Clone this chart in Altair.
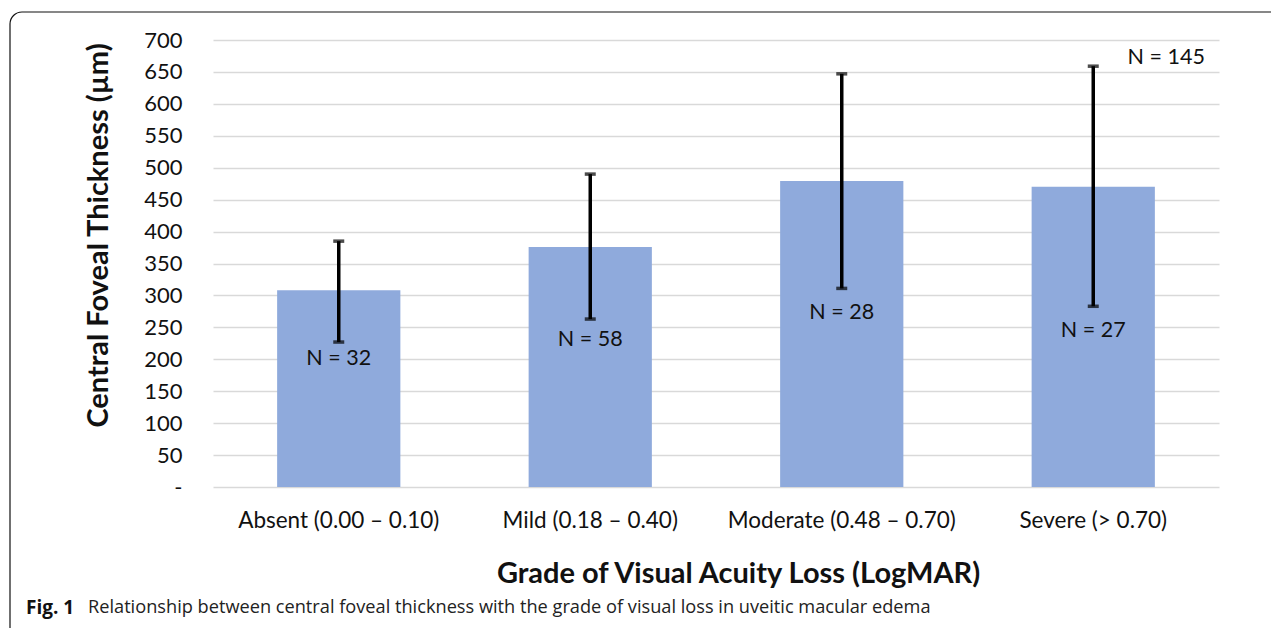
import altair as alt
import pandas as pd

categories = ["Absent (0.00 \u2013 0.10)", "Mild (0.18 \u2013 0.40)",
              "Moderate (0.48 \u2013 0.70)", "Severe (> 0.70)"]
means = [308, 376, 479, 470]
err_low = [227, 263, 311, 283]
err_high = [385, 490, 647, 659]
n_labels = ["N = 32", "N = 58", "N = 28", "N = 27"]
n_label_y = [200, 230, 272, 245]
total_label = "N = 145"
total_label_y = 672
y_ticks = [0, 50, 100, 150, 200, 250, 300, 350, 400, 450, 500, 550, 600, 650, 700]

df = pd.DataFrame({
    "cat": categories, "mean": means, "lo": err_low, "hi": err_high,
    "n": n_labels, "ny": n_label_y,
})
df_total = pd.DataFrame({"cat": [categories[-1]], "n": [total_label], "ny": [total_label_y]})

FONT = "Lato"
W, H = 1006, 447

yscale = alt.Scale(domain=[0, 700], nice=False)
xscale = alt.Scale(paddingInner=0.51, paddingOuter=0.255)

xaxis = alt.Axis(title="Grade of Visual Acuity Loss (LogMAR)", labelAngle=0,
                 labelFontSize=22.5, labelFont=FONT, labelColor="#111",
                 labelPadding=22, ticks=False, domain=False, labelLimit=400,
                 titleFont=FONT, titleFontSize=29, titleFontWeight="bold",
                 titleColor="#111", titleX=525, titleY=86, titleBaseline="middle")
yaxis = alt.Axis(title="Central Foveal Thickness (\u00b5m)", values=y_ticks,
                 labelExpr="datum.value == 0 ? '-' : datum.label",
                 labelFontSize=22, labelFont=FONT, labelColor="#111",
                 labelPadding=31, ticks=False, domain=False, labelOverlap=False,
                 grid=True, gridColor="#d9d9d9", gridWidth=1.5,
                 titleFont=FONT, titleFontSize=29, titleFontWeight="bold",
                 titleColor="#111", titleX=-115, titleY=195,
                 titleAlign="center", titleBaseline="middle", titleAngle=-90)

def X():
    return alt.X("cat:N", sort=categories, scale=xscale, axis=xaxis)

def Y(field):
    return alt.Y(field, scale=yscale, axis=yaxis)

base = alt.Chart(df)

border = alt.Chart(pd.DataFrame({"a": [0]})).mark_rect(
    fill=None, stroke="#111", strokeWidth=1.2, cornerRadius=12, clip=False
).encode(x=alt.value(10 - 213), x2=alt.value(1287 - 213 + 30),
         y=alt.value(12 - 40), y2=alt.value(628 - 40 + 30))

bars = base.mark_bar(color="#8faadc").encode(x=X(), y=Y("mean:Q"))

rules = base.mark_rule(color="black", strokeWidth=3.5).encode(
    x=X(), y=Y("lo:Q"), y2="hi:Q")
caps_lo = base.mark_tick(color="black", thickness=3.5, size=11).encode(
    x=X(), y=Y("lo:Q"))
caps_hi = base.mark_tick(color="black", thickness=3.5, size=11).encode(
    x=X(), y=Y("hi:Q"))

nlab = base.mark_text(font=FONT, fontSize=21.5, color="#111", baseline="middle").encode(
    x=X(), y=Y("ny:Q"), text="n:N")
tlab = alt.Chart(df_total).mark_text(font=FONT, fontSize=21.5, color="#111",
                                     baseline="middle", dx=73).encode(
    x=X(), y=Y("ny:Q"), text="n:N")

cap_bold = alt.Chart(pd.DataFrame({"t": ["Fig. 1"]})).mark_text(
    font="Open Sans", fontSize=19, fontWeight="bold", color="#111",
    align="left", baseline="middle", clip=False
).encode(x=alt.value(26 - 213), y=alt.value(608 - 40), text="t:N")
cap_rest = alt.Chart(pd.DataFrame({"t": ["Relationship between central foveal thickness with the grade of visual loss in uveitic macular edema"]})).mark_text(
    font="Open Sans", fontSize=18.2, color="#222", align="left", baseline="middle", clip=False
).encode(x=alt.value(88 - 213), y=alt.value(608 - 40), text="t:N")

chart = alt.layer(border, bars, rules, caps_lo, caps_hi, nlab, tlab, cap_bold, cap_rest).properties(
    width=W, height=H,
    background="white",
    autosize=alt.AutoSizeParams(type="none"),
    padding={"left": 205, "top": 32, "right": 52, "bottom": 145},
).configure_view(strokeWidth=0, stroke=None)

chart.save("out.html", embed_options={"renderer": "svg", "actions": False})
